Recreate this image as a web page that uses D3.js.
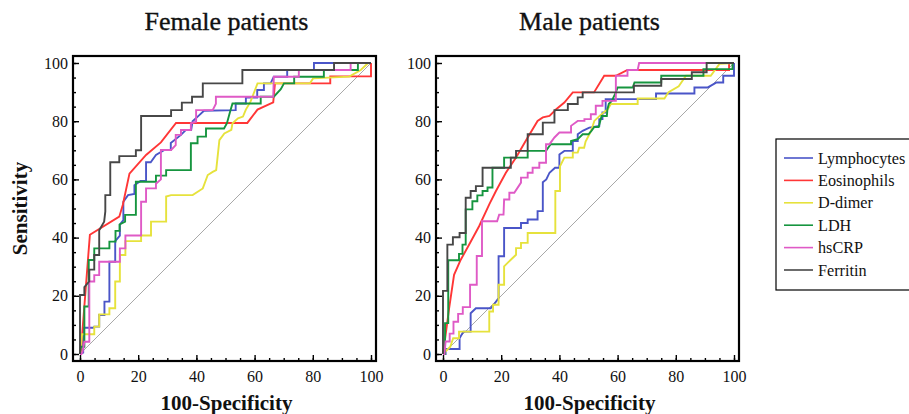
<!DOCTYPE html>
<html>
<head>
<meta charset="utf-8">
<script src="https://cdn.jsdelivr.net/npm/d3@7"></script>
<style>
  body { margin: 0; background: #fff; }
  svg { display: block; }
  text { font-family: "Liberation Serif", "Times New Roman", serif; fill: #111; }
</style>
</head>
<body>
<svg id="chart" width="909" height="414"></svg>
<script>
// series names + colours, same order in both panels
const markers = ["Lymphocytes", "Eosinophils", "D-dimer", "LDH", "hsCRP", "Ferritin"];
const colors  = ["#4a55c8", "#ff3636", "#e6e23c", "#16953f", "#df5ac6", "#474747"];
const panelTitles = ["Female patients", "Male patients"];
const majorTicks = [0, 20, 40, 60, 80, 100];
const minorTicks = d3.range(0, 101, 5);

// ROC vertices [100-specificity, sensitivity]
// ---- female
const femLymph = [[0,0],[1.1,0.5],[1.1,9],[4.6,9],[4.9,9.4],[6.6,9.4],[6.6,13.4],[8.4,13.4],[8.4,18],[10.1,18],[10.1,31.7],[12.1,31.7],[12.1,38.8],[13.7,40.7],[13.7,44.5],[14.9,46],[14.9,52.3],[16.5,54.6],[18.7,55],[18.7,58],[20.8,59.5],[22.7,59.5],[22.7,65.9],[24.3,65.9],[26.1,68.4],[29,70.1],[31.2,70.1],[31.2,72.5],[34.7,75.3],[36.4,77],[38.2,77],[38.7,80],[41,82.1],[42.6,83.6],[53.5,83.8],[53.5,86.1],[57,86.1],[57,88.1],[60.9,88.1],[60.9,90.7],[63.2,90.7],[63.2,93],[65.5,93],[66.6,95.3],[71.2,95.3],[71.2,97.6],[80.4,97.6],[80.4,100],[100,100]];
const femEos = [[0,0],[0.3,1],[3.4,41],[13.5,47.2],[14.7,51.2],[17,62],[22.7,68.4],[27.8,72.7],[33,79.4],[57.5,79.4],[61,84],[66.4,86.5],[67,93],[86,93],[86,95.4],[100,95.4],[100,100]];
const femDdim = [[0,0],[0.7,6.8],[4.9,6.8],[4.9,9.4],[6.6,9.4],[6.6,13.6],[10.1,13.6],[10.1,15.7],[12.1,15.7],[12.1,24.9],[13.7,24.9],[13.7,34],[15.6,34],[15.6,38.8],[21,38.8],[21,40.7],[24.4,40.7],[24.4,45.5],[29.6,45.5],[29.6,54.1],[31.3,54.6],[38.7,54.6],[42.2,56.9],[43.9,61.5],[45.6,62.6],[46.8,63.2],[47.9,73.5],[49.6,75.8],[52,77],[52.4,79.3],[54.3,81],[56,81.6],[57,84],[58.6,86.7],[60.4,91.4],[61,93],[79,93],[80.1,94.7],[92.5,95.3],[96.5,97.6],[99,100],[100,100]];
const femLDH = [[0,0],[0.3,2.5],[1.5,2.5],[1.5,16.3],[3,16.3],[3,32.3],[4.9,32.3],[4.9,36.3],[10.1,36.3],[10.1,38.6],[12.2,38.6],[12.2,42.3],[13.6,42.3],[13.6,44.5],[15.5,45.5],[15.5,47.8],[19.2,47.8],[19.2,59.2],[26.1,59.2],[26.1,61.3],[29.6,61.3],[29.6,63.2],[38.1,63.2],[38.1,72.4],[40.4,72.4],[40.4,74.7],[43.3,74.7],[43.3,77.5],[49.5,77.5],[50.5,79.3],[51.5,83],[52.4,86.1],[62.1,86.1],[62.1,88.4],[66.6,88.4],[69,91],[70.1,93],[73.6,93],[73.6,95.3],[83.8,95.3],[83.8,97.6],[95.5,97.6],[95.5,100],[100,100]];
const femCRP = [[0,0],[0.5,0],[0.9,0.8],[1.5,4.2],[3.2,4.2],[3.2,24.9],[4.9,24.9],[4.9,27.1],[6.6,27.1],[6.6,31.7],[13.7,31.7],[13.7,36.3],[15.6,36.3],[15.6,40.7],[21,40.7],[21,52.3],[22.7,52.3],[22.7,56.9],[26.1,56.9],[26.1,58.5],[27.8,60],[27.8,70.1],[31.3,70.1],[32.9,71.8],[32.9,75.3],[34.7,75.3],[34.7,77],[38.1,77],[38.1,79.3],[39.9,79.8],[39.9,83.8],[45.6,83.8],[46.7,86],[46.7,88.4],[66.4,88.4],[66.6,95.3],[75.2,95.3],[75.2,97.6],[93,97.6],[93,100],[100,100]];
const femFerr = [[0,0],[0,20.3],[1.5,20.3],[1.5,23],[3.2,25],[3.2,29],[4.9,29],[4.9,34],[6.6,34],[6.6,42.5],[8.3,45.5],[8.7,49],[8.7,54.6],[10.4,54.6],[10.4,65.9],[13.5,65.9],[13.5,68],[19.2,68],[19.2,70],[21,70],[21,81.8],[31.3,81.8],[31.3,83.8],[35,83.8],[35,86.4],[38.5,86.4],[38.5,88.4],[42.2,88.4],[42.2,93],[55.8,93],[55.8,97.6],[87.3,97.6],[87.3,100],[100,100]];
// ---- male
const malLymph = [[0,0],[0.9,0],[0.9,1.7],[5.7,1.7],[5.7,5.4],[7,7.7],[9.5,7.7],[9.5,14],[11.3,15.7],[16.4,15.7],[17.5,17],[19.1,19.2],[19.1,33.6],[21,33.6],[21,43.3],[26.8,43.3],[26.8,45],[29.1,45],[29.1,46.2],[32.5,46.2],[32.5,49.1],[34.3,49.1],[34.3,59],[35.5,60],[36.6,62.3],[38.5,64],[40,64],[40,68.6],[41.7,69.8],[44.6,69.8],[44.6,73.2],[46.3,73.2],[46.3,75.5],[48,76.7],[50.3,77.8],[53.7,78.4],[53.7,80.7],[54.8,80.7],[54.8,83],[55.9,83],[55.9,87.6],[73.2,87.6],[73.2,89.5],[86.4,89.5],[86.4,91.6],[91,91.6],[94,93.3],[96.3,93.3],[96.3,95.6],[100,95.6],[100,100]];
const malEos = [[0,0],[0.9,6.6],[2.1,15.7],[3.8,27.2],[6.1,32.4],[9,37.6],[12.4,43.9],[15.9,51.4],[18.2,56],[21.6,62.3],[25.1,67.5],[29.1,74.4],[32.5,80.1],[34.3,81.3],[36.6,81.8],[38.9,84.1],[41.7,86.4],[44.6,89.9],[51.9,89.9],[55.4,95.6],[59.4,95.6],[63.4,97.6],[98.3,97.6],[98.3,100],[100,100]];
const malDdim = [[0,0],[2.5,2.5],[3.5,5.4],[5.5,5.4],[5.5,7.7],[15.9,7.7],[15.9,14.6],[17.2,14.6],[17.2,16.9],[19.1,16.9],[19.1,23.8],[21,23.8],[21,30.1],[23.3,32.4],[25.1,34.1],[25.1,36.4],[26.8,36.4],[26.8,38.2],[29.1,38.2],[29.1,41.6],[38.6,41.6],[38.6,56],[40.2,56],[40.2,64.5],[41.7,67.5],[44.6,67.5],[44.6,69.2],[46.3,69.2],[46.8,70.9],[48.5,70.9],[49,73],[50.3,75.5],[51,77],[52,80.1],[54,82],[56.6,84.1],[57.7,85.9],[66.9,85.9],[66.9,87.8],[76.1,87.8],[77.5,90],[81,92],[83.5,95.6],[92,95.6],[95,99.7],[100,100]];
const malLDH = [[0,0],[0.7,0],[0.7,10.6],[1.8,10.6],[1.8,32.2],[5.5,32.2],[5.5,34.4],[6.7,34.4],[6.7,37.6],[7.8,37.6],[7.8,49.7],[10.1,49.7],[10.1,52.5],[11.8,52.5],[11.8,54.5],[13.6,54.5],[13.6,56],[15.3,56],[15.3,57.2],[17,57.2],[17,64],[21,64],[21,67.5],[29.1,67.5],[29.1,69.8],[35.4,69.8],[37,72.1],[44,72.1],[44,73.2],[46.3,73.8],[48,75.5],[50,75.5],[51,76.7],[52,78],[53.5,78],[54.5,81.8],[56.3,81.8],[56.5,84.1],[57,86],[58,87],[59.4,89.9],[60,91.6],[65.2,91.6],[65.8,93.3],[75,93.3],[75,95.6],[89.5,95.6],[89.5,97.9],[99.5,97.9],[99.5,100],[100,100]];
const malCRP = [[0,0],[0.5,0],[0.9,4.3],[2.3,4.3],[2.3,7],[3.6,7],[3.6,11.1],[5.2,11.1],[5.2,13.8],[6.8,13.8],[6.8,16.1],[9.3,16.1],[9.3,23.8],[11.6,23.8],[11.6,33.7],[13.4,33.7],[13.4,45.6],[18.6,45.6],[19.3,47.9],[20.8,47.9],[21,53.1],[22.8,53.1],[22.8,55.4],[24.5,55.4],[26.8,58.9],[26.8,60.6],[29.1,60.6],[29.1,62.3],[30.8,62.3],[30.8,64],[33.1,64],[33.1,65.7],[35.4,65.7],[35.4,72.1],[36.6,72.1],[38.3,74.4],[40,76.1],[44,76.1],[44,78.4],[46.3,80.1],[48.6,80.1],[48.6,80.7],[50.8,80.7],[50.8,82.4],[52.5,82.4],[52.5,85.3],[54.8,85.3],[54.8,87],[59.4,87],[59.4,95.6],[63.4,95.6],[63.4,97.6],[66.9,97.6],[67.4,100],[100,100]];
const malFerr = [[0,0],[0,21.7],[1.5,21.7],[1.5,37.6],[3.4,37.6],[3.4,40.1],[5.7,40.1],[5.7,41.6],[7.8,41.6],[7.8,53.7],[9.5,53.7],[9.5,56],[11.3,56],[11.3,57.7],[13.6,57.7],[13.6,64],[23.3,64],[23.3,67.5],[25.1,67.5],[25.1,69.8],[29.1,69.8],[29.1,75.5],[34.3,75.5],[34.3,79.5],[38.3,79.5],[38.3,83.8],[42.9,83.8],[42.9,85.9],[46.3,85.9],[46.3,88.2],[48,88.2],[48,89.9],[65.6,89.9],[65.6,92.2],[75,92.2],[75,94.5],[85.5,94.5],[85.5,96.8],[90.6,96.8],[90.6,100],[100,100]];

const femaleCurves = [femLymph, femEos, femDdim, femLDH, femCRP, femFerr];
const maleCurves   = [malLymph, malEos, malDdim, malLDH, malCRP, malFerr];

const svg = d3.select("#chart");

// one panel, frame is a bit bigger than the 0-100 range
var plotW = 291, plotH = 291, pad = 7;
var panelLeft = [80, 443], plotTop = 63;

function drawPanel(left, curves, title){
    var x = d3.scaleLinear().domain([0, 100]).range([0, plotW]);
    var y = d3.scaleLinear().domain([0, 100]).range([plotH, 0]);
    var g = svg.append("g").attr("transform", "translate(" + left + "," + plotTop + ")");

    g.append("text").attr("x", plotW/2 + 1).attr("y", -33)
        .attr("text-anchor", "middle").style("font-size", "26px")
        .style("stroke", "#111").style("stroke-width", 0.35).text(title);

    // diagonal reference
    g.append("line").attr("x1", x(0)).attr("y1", y(0)).attr("x2", x(100)).attr("y2", y(100))
        .style("stroke", "#a8a8a8").style("stroke-width", 1);

    var line = d3.line().x(function(d){ return x(d[0]) }).y(function(d){ return y(d[1]) });
    curves.forEach(function(c, i){
        g.append("path").datum(c).attr("d", line)
            .style("fill", "none").style("stroke", colors[i]).style("stroke-width", 1.9)
            .style("stroke-linejoin", "miter");
    });

    // frame
    g.append("rect").attr("x", -pad).attr("y", -pad).attr("width", plotW + pad + 5).attr("height", plotH + 2*pad)
        .style("fill", "none").style("stroke", "#000").style("stroke-width", 2.2);

    // ticks pointing inwards
    g.append("g").attr("transform", "translate(0," + (plotH + pad) + ")")
        .call(d3.axisBottom(x).tickValues(majorTicks).tickSize(-6).tickPadding(10));
    g.append("g").attr("transform", "translate(0," + (plotH + pad) + ")")
        .call(d3.axisBottom(x).tickValues(minorTicks).tickSize(-3).tickFormat(""));
    g.append("g").attr("transform", "translate(" + (-pad) + ",0)")
        .call(d3.axisLeft(y).tickValues(majorTicks).tickSize(-6).tickPadding(5));
    g.append("g").attr("transform", "translate(" + (-pad) + ",0)")
        .call(d3.axisLeft(y).tickValues(minorTicks).tickSize(-3).tickFormat(""));
    g.selectAll(".domain").remove();
    g.selectAll(".tick line").style("stroke", "#000").style("stroke-width", 1.4);
    g.selectAll(".tick text").style("font-size", "16px")
        .style("font-family", '"Liberation Serif", serif').style("fill", "#111");

    g.append("text").attr("x", plotW/2 + 1).attr("y", plotH + 56)
        .attr("text-anchor", "middle").style("font-size", "21px").style("font-weight", "bold")
        .text("100-Specificity");
}

drawPanel(panelLeft[0], femaleCurves, panelTitles[0]);
drawPanel(panelLeft[1], maleCurves, panelTitles[1]);

svg.append("text").attr("transform", "translate(27," + (plotTop + plotH/2) + ") rotate(-90)")
    .attr("text-anchor", "middle").style("font-size", "21px").style("font-weight", "bold")
    .text("Sensitivity");

// legend, its right side runs off the picture like in the source
var lg = svg.append("g").attr("transform", "translate(776,139)");
lg.append("rect").attr("width", 150).attr("height", 151)
    .style("fill", "#fff").style("stroke", "#000").style("stroke-width", 1.2);
markers.forEach(function(m, i){
    var row = lg.append("g").attr("transform", "translate(0," + (19 + i*22.4) + ")");
    row.append("line").attr("x1", 8).attr("x2", 37).style("stroke", colors[i]).style("stroke-width", 1.6);
    row.append("text").attr("x", 42).attr("dy", "0.35em").style("font-size", "16.2px").text(m);
});
</script>
</body>
</html>
